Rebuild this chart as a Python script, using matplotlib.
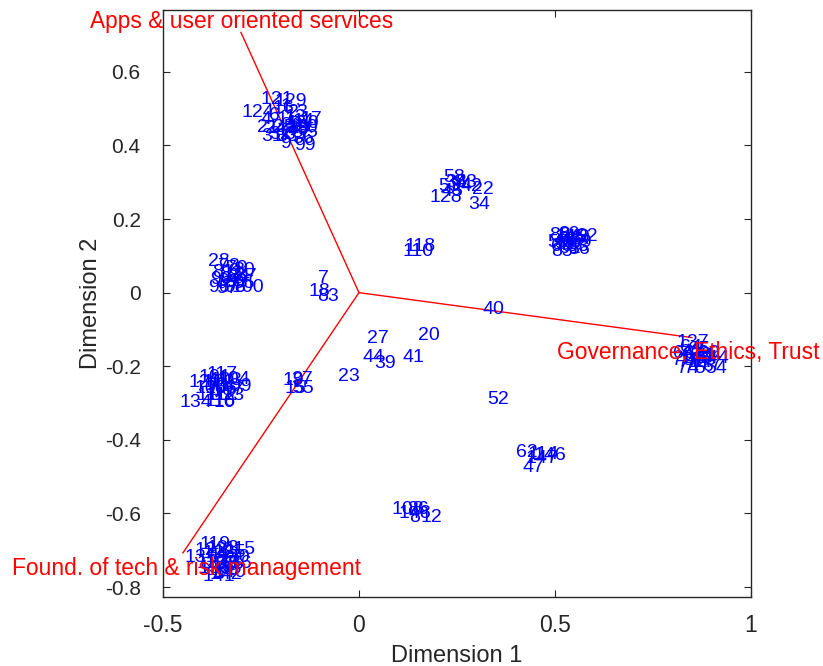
import matplotlib
matplotlib.use("Agg")
import matplotlib.pyplot as plt

plt.rcParams['font.family'] = ['Liberation Sans', 'DejaVu Sans']
plt.rcParams['axes.unicode_minus'] = False

# ---- data -----------------------------------------------------------
# triangle (axis directions) end points
vertex_x = [-0.301, 0.849, -0.449]
vertex_y = [0.707, -0.122, -0.707]
vertex_names = ["Apps & user oriented services", "Governance, Ethics, Trust",
                "Found. of tech & risk management"]
vertex_label_x = [-0.686, 0.505, -0.885]
vertex_label_y = [0.736, -0.163, -0.750]

# scattered points in the middle
mid_labels = ["7", "18", "83", "27", "20", "44", "39", "41", "23", "52", "62", "114",
              "146", "147", "47", "108", "148", "86", "8", "12", "40", "118", "110",
              "19", "37", "15", "55"]
mid_x = [-0.105, -0.128, -0.107, 0.020, 0.151, 0.010, 0.038, 0.112, -0.054, 0.327, 0.401, 0.431,
         0.444, 0.425, 0.418, 0.084, 0.100, 0.122, 0.128, 0.158, 0.314, 0.115, 0.110,
         -0.196, -0.173, -0.191, -0.171]
mid_y = [0.038, 0.003, -0.011, -0.125, -0.117, -0.177, -0.193, -0.177, -0.228, -0.291, -0.435, -0.440,
         -0.443, -0.450, -0.476, -0.590, -0.600, -0.590, -0.611, -0.611, -0.046, 0.125, 0.111,
         -0.239, -0.236, -0.261, -0.261]

# cluster top-left
a_labels = ["121", "129", "124", "16", "1", "2", "3", "4", "6", "11", "13", "14", "17", "21",
            "24", "25", "26", "29", "30", "5", "31", "32", "33", "35", "36", "9", "99", "149", "150"]
a_x = [-0.250, -0.215, -0.300, -0.220, -0.200, -0.180, -0.160, -0.250, -0.230, -0.210, -0.190,
       -0.170, -0.150, -0.260, -0.240, -0.220, -0.200, -0.180, -0.160, -0.135, -0.250, -0.230,
       -0.210, -0.190, -0.170, -0.200, -0.165, -0.210, -0.185]
a_y = [0.525, 0.520, 0.490, 0.500, 0.505, 0.490, 0.490, 0.470, 0.480, 0.470, 0.475, 0.465,
       0.470, 0.450, 0.445, 0.450, 0.455, 0.445, 0.450, 0.435, 0.425, 0.430, 0.425, 0.430,
       0.420, 0.405, 0.400, 0.440, 0.460]

# cluster upper-middle
b_labels = ["58", "53", "94", "42", "22", "128", "34", "38", "43", "45"]
b_x = [0.214, 0.202, 0.232, 0.258, 0.288, 0.181, 0.278, 0.220, 0.245, 0.210]
b_y = [0.313, 0.288, 0.291, 0.288, 0.280, 0.258, 0.239, 0.300, 0.300, 0.275]

# cluster right-middle
c_labels = ["88", "89", "46", "48", "49", "50", "51", "57", "59", "60", "61", "63", "85",
            "56", "92", "145"]
c_x = [0.485, 0.508, 0.495, 0.515, 0.535, 0.480, 0.500, 0.520, 0.540, 0.490, 0.510, 0.530,
       0.490, 0.533, 0.554, 0.500]
c_y = [0.155, 0.158, 0.143, 0.145, 0.150, 0.135, 0.130, 0.135, 0.135, 0.125, 0.120, 0.125,
       0.112, 0.118, 0.152, 0.150]

# cluster far right
d_labels = ["137", "64", "65", "66", "67", "68", "69", "70", "71", "72", "73", "74", "75",
            "76", "77", "54", "143", "144"]
d_x = [0.809, 0.820, 0.840, 0.800, 0.825, 0.845, 0.865, 0.798, 0.815, 0.835, 0.855, 0.810,
       0.830, 0.850, 0.870, 0.883, 0.820, 0.860]
d_y = [-0.136, -0.150, -0.155, -0.165, -0.170, -0.172, -0.165, -0.185, -0.190, -0.190, -0.185,
       -0.205, -0.205, -0.200, -0.195, -0.205, -0.178, -0.180]

# cluster left
e_labels = ["28", "78", "79", "80", "81", "82", "84", "87", "90", "91", "93", "95", "96",
            "97", "98", "100"]
e_x = [-0.385, -0.360, -0.340, -0.320, -0.375, -0.355, -0.335, -0.315, -0.380, -0.360,
       -0.340, -0.320, -0.385, -0.365, -0.345, -0.325]
e_y = [0.084, 0.070, 0.065, 0.060, 0.055, 0.050, 0.045, 0.045, 0.035, 0.030, 0.028, 0.025,
       0.015, 0.012, 0.013, 0.014]

# cluster lower-left
f_labels = ["117", "101", "120", "102", "103", "104", "105", "106", "107", "109", "111",
            "112", "113", "116", "134", "10"]
f_x = [-0.390, -0.410, -0.436, -0.400, -0.380, -0.360, -0.420, -0.395, -0.375, -0.355,
       -0.415, -0.390, -0.370, -0.395, -0.457, -0.372]
f_y = [-0.222, -0.230, -0.245, -0.245, -0.240, -0.235, -0.260, -0.260, -0.265, -0.255,
       -0.280, -0.280, -0.280, -0.295, -0.299, -0.299]

# cluster bottom-left
g_labels = ["119", "122", "123", "115", "125", "126", "131", "127", "130", "132", "133",
            "135", "136", "138", "139", "140", "141", "142"]
g_x = [-0.406, -0.420, -0.390, -0.342, -0.370, -0.400, -0.444, -0.380, -0.360, -0.415,
       -0.395, -0.375, -0.355, -0.410, -0.390, -0.370, -0.400, -0.380]
g_y = [-0.685, -0.700, -0.695, -0.698, -0.705, -0.710, -0.720, -0.720, -0.720, -0.735,
       -0.735, -0.740, -0.735, -0.750, -0.755, -0.760, -0.770, -0.765]

x_ticks = [-0.5, 0, 0.5, 1]
x_tick_labels = ["-0.5", "0", "0.5", "1"]
y_ticks = [-0.8, -0.6, -0.4, -0.2, 0, 0.2, 0.4, 0.6]
y_tick_labels = ["-0.8", "-0.6", "-0.4", "-0.2", "0", "0.2", "0.4", "0.6"]

# ---- figure ---------------------------------------------------------
fig = plt.figure(figsize=(8.23, 6.66), dpi=100)
ax = fig.add_axes([0.198, 0.1036, 0.7145, 0.8814])
ax.set_xlim(-0.5, 1.0)
ax.set_ylim(-0.827, 0.768)

for vx, vy in zip(vertex_x, vertex_y):
    ax.plot([0, vx], [0, vy], color='red', lw=1.0)

all_labels = mid_labels + a_labels + b_labels + c_labels + d_labels + e_labels + f_labels + g_labels
all_x = mid_x + a_x + b_x + c_x + d_x + e_x + f_x + g_x
all_y = mid_y + a_y + b_y + c_y + d_y + e_y + f_y + g_y
for lab, px, py in zip(all_labels, all_x, all_y):
    ax.text(px, py, lab, color='blue', fontsize=14, ha='left', va='center')

for name, lx, ly in zip(vertex_names, vertex_label_x, vertex_label_y):
    ax.text(lx, ly, name, color='red', fontsize=16.4, ha='left', va='center', clip_on=False)

ax.set_xticks(x_ticks)
ax.set_xticklabels(x_tick_labels)
ax.set_yticks(y_ticks)
ax.set_yticklabels(y_tick_labels)
ax.tick_params(direction='in', top=True, right=True, length=5,
               colors='#262626', labelcolor='#262626')
ax.tick_params(axis='x', pad=12, labelsize=16.5)
ax.tick_params(axis='y', pad=16, labelsize=15)
for s in ax.spines.values():
    s.set_color('#262626')
    s.set_linewidth(1.0)
ax.set_xlabel("Dimension 1", fontsize=17, color='#262626', labelpad=6)
ax.set_ylabel("Dimension 2", fontsize=17, color='#262626', labelpad=2)

fig.savefig("out.png", dpi=100)
